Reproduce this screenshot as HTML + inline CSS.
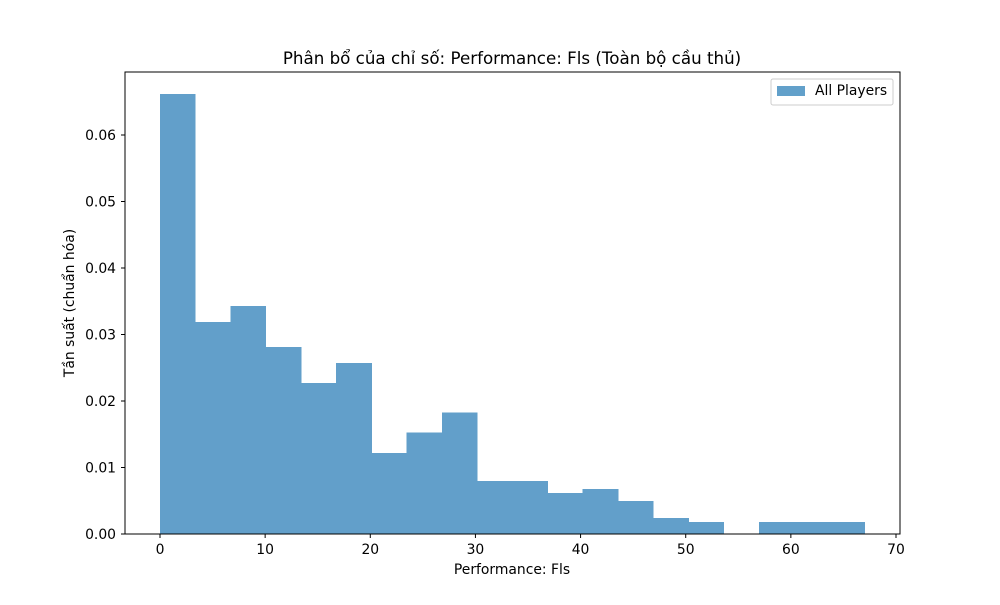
<!DOCTYPE html>
<html><head><meta charset="utf-8"><style>
body{margin:0;background:#fff;}
svg text{font-family:"DejaVu Sans","Liberation Sans",sans-serif;fill:#000;}
</style></head><body>
<svg id="chart" width="1000" height="600" xmlns="http://www.w3.org/2000/svg">
<rect width="1000" height="600" fill="#fff"/>
<text x="512" y="64" font-size="16.7" text-anchor="middle">Phân bổ của chỉ số: Performance: Fls (Toàn bộ cầu thủ)</text>
<g id="bars" shape-rendering="crispEdges"></g>
<g id="xticks"></g>
<g id="yticks"></g>
<rect x="125" y="72" width="775" height="462" fill="none" stroke="#000" stroke-width="1"/>
<text x="512" y="574" font-size="13.9" text-anchor="middle">Performance: Fls</text>
<text transform="translate(74,303) rotate(-90)" font-size="13.9" text-anchor="middle">Tần suất (chuẩn hóa)</text>
<g>
<rect x="771" y="79" width="122" height="26" fill="#fff" stroke="#ccc" rx="2"/>
<rect x="777" y="86" width="28" height="10" fill="#1f77b4" fill-opacity="0.7"/>
<text x="815" y="95" font-size="13.9">All Players</text>
</g>
</svg>
<script>
const binStart = 0;
const binEnd = 67;
const densities = [0.0662,0.0319,0.0343,0.0281,0.0227,0.0257,0.0122,0.0153,0.0183,0.0080,0.0080,0.0062,0.0068,0.0050,0.0024,0.0018,0,0.0018,0.0018,0.0018];
const xTickLabels = [0,10,20,30,40,50,60,70];
const yTickLabels = ["0.00","0.01","0.02","0.03","0.04","0.05","0.06"];
const NS="http://www.w3.org/2000/svg";
function xs(v){return 160+(v-0)*(896-160)/70;}
function ys(v){return 534-v*6650;}
const bars=document.getElementById('bars');
const w=(binEnd-binStart)/densities.length;
densities.forEach((d,i)=>{
  if(d<=0) return;
  const r=document.createElementNS(NS,'rect');
  const x0=xs(binStart+i*w), x1=xs(binStart+(i+1)*w);
  r.setAttribute('x',x0);r.setAttribute('width',x1-x0+0.5);
  r.setAttribute('y',ys(d));r.setAttribute('height',ys(0)-ys(d));
  r.setAttribute('fill','#629fca');
  
  
  bars.appendChild(r);
});
const xt=document.getElementById('xticks');
xTickLabels.forEach(v=>{
  const l=document.createElementNS(NS,'line');
  l.setAttribute('x1',xs(v));l.setAttribute('x2',xs(v));l.setAttribute('y1',534);l.setAttribute('y2',538);l.setAttribute('stroke','#000');
  
  
  xt.appendChild(l);
  const t=document.createElementNS(NS,'text');
  t.setAttribute('x',xs(v));t.setAttribute('y',554);t.setAttribute('font-size','13.9');t.setAttribute('text-anchor','middle');
  t.textContent=v;
  
  
  xt.appendChild(t);
});
const yt=document.getElementById('yticks');
yTickLabels.forEach(s=>{
  const v=parseFloat(s);
  const l=document.createElementNS(NS,'line');
  l.setAttribute('x1',121);l.setAttribute('x2',125);l.setAttribute('y1',ys(v));l.setAttribute('y2',ys(v));l.setAttribute('stroke','#000');
  
  
  yt.appendChild(l);
  const t=document.createElementNS(NS,'text');
  t.setAttribute('x',116);t.setAttribute('y',ys(v)+5);t.setAttribute('font-size','13.9');t.setAttribute('text-anchor','end');
  t.textContent=s;
  
  
  yt.appendChild(t);
});
</script>
</body></html>
